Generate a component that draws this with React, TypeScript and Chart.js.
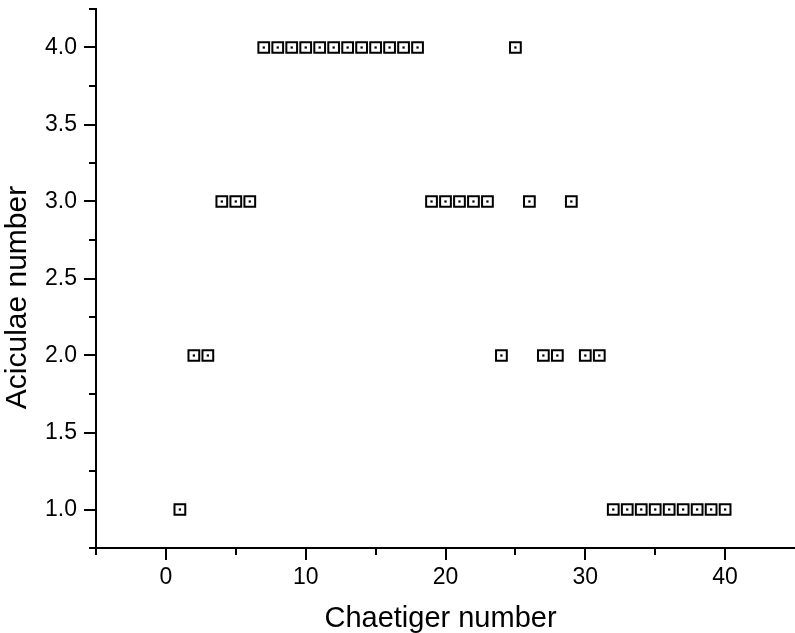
import React, { useEffect, useRef } from 'react';
import { Chart, registerables } from 'chart.js';

Chart.register(...registerables);

const chaetigerNumber = [
  1, 2, 3, 4, 5, 6, 7, 8, 9, 10,
  11, 12, 13, 14, 15, 16, 17, 18, 19, 20,
  21, 22, 23, 24, 25, 26, 27, 28, 29, 30,
  31, 32, 33, 34, 35, 36, 37, 38, 39, 40,
];
const aciculaeNumber = [
  1, 2, 2, 3, 3, 3, 4, 4, 4, 4,
  4, 4, 4, 4, 4, 4, 4, 4, 3, 3,
  3, 3, 3, 2, 4, 3, 2, 2, 3, 2,
  2, 1, 1, 1, 1, 1, 1, 1, 1, 1,
];

const xMajorTicks = [0, 10, 20, 30, 40];
const xMinorTicks = [-5, 5, 15, 25, 35];
const yMajorTicks = [1.0, 1.5, 2.0, 2.5, 3.0, 3.5, 4.0];
const yMinorTicks = [0.75, 1.25, 1.75, 2.25, 2.75, 3.25, 3.75, 4.25];

const xTitle = 'Chaetiger number';
const yTitle = 'Aciculae number';

const FONT = '"Liberation Sans", Arial, Helvetica, sans-serif';

const tickMarks = {
  id: 'tickMarks',
  afterDraw(chart: any) {
    const { ctx, chartArea } = chart;
    const xs = chart.scales.x;
    const ys = chart.scales.y;
    ctx.save();
    ctx.strokeStyle = '#000';
    ctx.lineWidth = 2;
    ctx.lineCap = 'butt';
    const drawX = (vals: number[], len: number) => {
      vals.forEach((v) => {
        const px = Math.round(xs.getPixelForValue(v));
        ctx.beginPath();
        ctx.moveTo(px, chartArea.bottom);
        ctx.lineTo(px, chartArea.bottom + len);
        ctx.stroke();
      });
    };
    const drawY = (vals: number[], len: number) => {
      vals.forEach((v) => {
        const py = Math.round(ys.getPixelForValue(v));
        ctx.beginPath();
        ctx.moveTo(chartArea.left, py);
        ctx.lineTo(chartArea.left - len, py);
        ctx.stroke();
      });
    };
    drawX(xMajorTicks, 12);
    drawX(xMinorTicks, 7);
    drawY(yMajorTicks, 12);
    drawY(yMinorTicks, 7);

    ctx.fillStyle = '#000';
    ctx.textAlign = 'center';
    ctx.textBaseline = 'middle';

    // x-axis title
    ctx.font = `29px ${FONT}`;
    ctx.fillText(xTitle, (chartArea.left + chartArea.right) / 2 - 5, chart.height - 14.5);

    // y-axis title (slightly below the axis centre, as in the reference)
    ctx.font = `30px ${FONT}`;
    ctx.translate(18, (chartArea.top + chartArea.bottom) / 2 + 19);
    ctx.rotate(-Math.PI / 2);
    ctx.fillText(yTitle, 0, 0);
    ctx.restore();
  },
};

const zeroPadding = (s: any) => {
  s.paddingTop = 0;
  s.paddingBottom = 0;
  s.paddingLeft = 0;
  s.paddingRight = 0;
};

export default function App() {
  const canvasRef = useRef<HTMLCanvasElement | null>(null);

  useEffect(() => {
    const canvas = canvasRef.current;
    if (!canvas) return;
    const points = chaetigerNumber.map((x, i) => ({ x, y: aciculaeNumber[i] }));
    const chart = new Chart(canvas, {
      type: 'scatter',
      data: {
        datasets: [
          {
            data: points,
            order: 2,
            pointStyle: 'rect',
            pointRadius: 7.6,
            borderWidth: 2,
            borderColor: '#000',
            backgroundColor: '#fff',
          },
          {
            data: points,
            order: 1,
            pointStyle: 'rect',
            pointRadius: 1.6,
            borderWidth: 0,
            borderColor: '#000',
            backgroundColor: '#000',
          },
        ],
      },
      options: {
        responsive: false,
        animation: false,
        events: [],
        layout: { autoPadding: false, padding: { top: 9, left: 0, right: 0, bottom: 0 } },
        plugins: {
          legend: { display: false },
          tooltip: { enabled: false },
        },
        scales: {
          x: {
            type: 'linear',
            position: 'bottom',
            min: -5,
            max: 45,
            afterBuildTicks: (s: any) => {
              s.ticks = xMajorTicks.map((v) => ({ value: v }));
            },
            afterFit: (s: any) => {
              s.height = 85;
              zeroPadding(s);
            },
            grid: { display: false, drawTicks: false },
            border: { display: true, color: '#000', width: 2 },
            ticks: {
              color: '#000',
              font: { family: FONT, size: 23 },
              padding: 16,
              maxRotation: 0,
              autoSkip: false,
              callback: (v: any) => String(v),
            },
            title: { display: false },
          },
          y: {
            type: 'linear',
            position: 'left',
            min: 0.75,
            max: 4.25,
            afterBuildTicks: (s: any) => {
              s.ticks = yMajorTicks.map((v) => ({ value: v }));
            },
            afterFit: (s: any) => {
              s.width = 96;
              zeroPadding(s);
            },
            grid: { display: false, drawTicks: false },
            border: { display: true, color: '#000', width: 2 },
            ticks: {
              color: '#000',
              font: { family: FONT, size: 23 },
              padding: 19,
              autoSkip: false,
              callback: (v: any) => Number(v).toFixed(1),
            },
            title: { display: false },
          },
        },
      },
      plugins: [tickMarks],
    });
    return () => chart.destroy();
  }, []);

  return (
    <div style={{ position: 'absolute', left: 0, top: 0, width: 795, height: 633, background: '#fff' }}>
      <canvas ref={canvasRef} width={795} height={633} style={{ width: 795, height: 633, display: 'block' }} />
    </div>
  );
}
